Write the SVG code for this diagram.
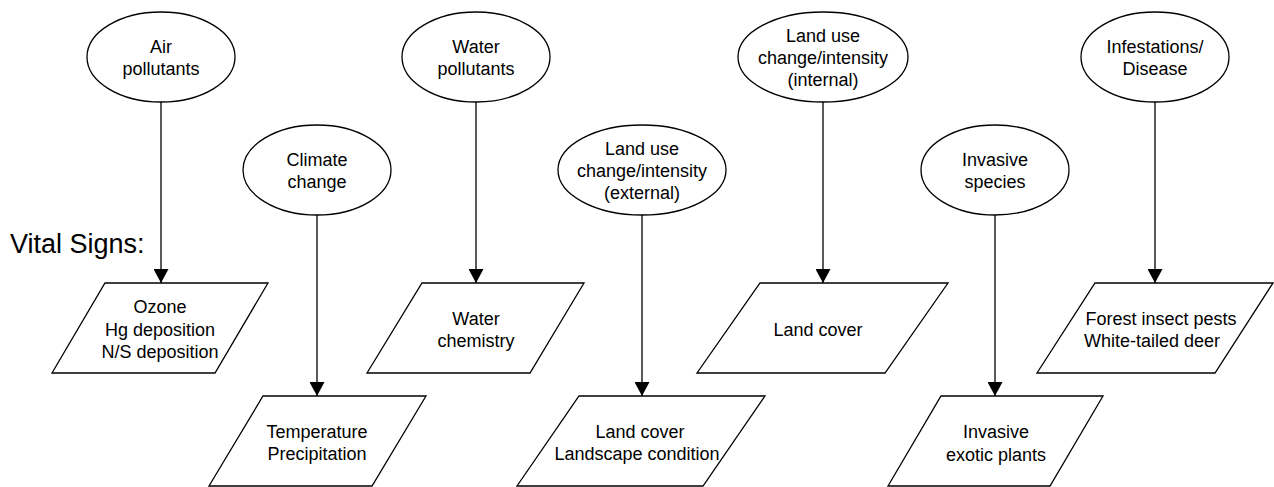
<svg xmlns="http://www.w3.org/2000/svg" width="1274" height="487" viewBox="0 0 1274 487">
  <style>
    .shape { fill: #ffffff; stroke: #000000; stroke-width: 1.3; }
    .link { stroke: #000000; stroke-width: 1.3; fill: none; marker-end: url(#arrow); }
    text { font-family: "Liberation Sans", Arial, sans-serif; font-size: 18px; fill: #000000; text-anchor: middle; }
    .title { font-size: 27px; text-anchor: start; }
  </style>
  <defs>
    <marker id="arrow" markerUnits="userSpaceOnUse" markerWidth="15" markerHeight="15" refX="14" refY="7.5" orient="auto">
      <path d="M0,0 L14,7.5 L0,15 Z" fill="#000000"/>
    </marker>
  </defs>
  <rect width="1274" height="487" fill="#ffffff"/>

  <text class="title" x="10" y="253">Vital Signs:</text>

  <!-- connectors: stressor to vital sign -->
  <g id="connectors">
    <line class="link" x1="161" y1="102" x2="161" y2="283"/>
    <line class="link" x1="317" y1="215" x2="317" y2="396"/>
    <line class="link" x1="476" y1="102" x2="476" y2="283"/>
    <line class="link" x1="642" y1="215" x2="642" y2="396"/>
    <line class="link" x1="823" y1="102" x2="823" y2="283"/>
    <line class="link" x1="995" y1="215" x2="995" y2="396"/>
    <line class="link" x1="1155" y1="102" x2="1155" y2="283"/>
  </g>

  <!-- stressors -->
  <g id="air-pollutants">
    <ellipse class="shape" cx="161" cy="57" rx="74" ry="45"/>
    <text x="161" y="53">Air</text>
    <text x="161" y="75">pollutants</text>
  </g>
  <g id="climate-change">
    <ellipse class="shape" cx="317" cy="170" rx="74" ry="45"/>
    <text x="317" y="166">Climate</text>
    <text x="317" y="188">change</text>
  </g>
  <g id="water-pollutants">
    <ellipse class="shape" cx="476" cy="57" rx="74" ry="45"/>
    <text x="476" y="53">Water</text>
    <text x="476" y="75">pollutants</text>
  </g>
  <g id="land-use-external">
    <ellipse class="shape" cx="642" cy="170" rx="84" ry="45"/>
    <text x="642" y="155">Land use</text>
    <text x="642" y="177">change/intensity</text>
    <text x="642" y="199">(external)</text>
  </g>
  <g id="land-use-internal">
    <ellipse class="shape" cx="823" cy="57" rx="85" ry="45"/>
    <text x="823" y="42">Land use</text>
    <text x="823" y="64">change/intensity</text>
    <text x="823" y="86">(internal)</text>
  </g>
  <g id="invasive-species">
    <ellipse class="shape" cx="995" cy="170" rx="74" ry="45"/>
    <text x="995" y="166">Invasive</text>
    <text x="995" y="188">species</text>
  </g>
  <g id="infestations-disease">
    <ellipse class="shape" cx="1155" cy="57" rx="74" ry="45"/>
    <text x="1155" y="53">Infestations/</text>
    <text x="1155" y="75">Disease</text>
  </g>

  <!-- vital signs -->
  <g id="air-vital-signs">
    <polygon class="shape" points="105,283 268,283 215,373 52,373"/>
    <text x="160" y="313">Ozone</text>
    <text x="160" y="336">Hg deposition</text>
    <text x="160" y="358">N/S deposition</text>
  </g>
  <g id="climate-vital-signs">
    <polygon class="shape" points="263,396 426,396 372,486 209,486"/>
    <text x="317" y="438">Temperature</text>
    <text x="317" y="460">Precipitation</text>
  </g>
  <g id="water-vital-signs">
    <polygon class="shape" points="422,283 584,283 530,373 367,373"/>
    <text x="476" y="325">Water</text>
    <text x="476" y="347">chemistry</text>
  </g>
  <g id="land-external-vital-signs">
    <polygon class="shape" points="579,396 765,396 703,486 517,486"/>
    <text x="640" y="438">Land cover</text>
    <text x="637" y="460">Landscape condition</text>
  </g>
  <g id="land-internal-vital-signs">
    <polygon class="shape" points="760,283 948,283 885,373 697,373"/>
    <text x="818" y="336">Land cover</text>
  </g>
  <g id="invasive-vital-signs">
    <polygon class="shape" points="941,396 1103,396 1050,486 888,486"/>
    <text x="996" y="438">Invasive</text>
    <text x="996" y="461">exotic plants</text>
  </g>
  <g id="infestation-vital-signs">
    <polygon class="shape" points="1095,283 1273,283 1215,373 1037,373"/>
    <text x="1161" y="325">Forest insect pests</text>
    <text x="1152" y="347">White-tailed deer</text>
  </g>
</svg>
